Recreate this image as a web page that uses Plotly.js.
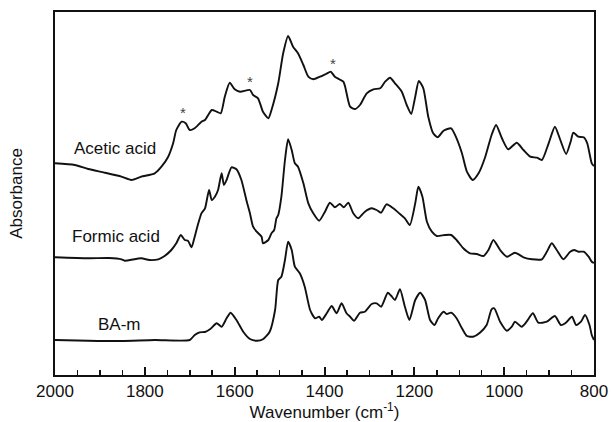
<!DOCTYPE html>
<html>
<head>
<meta charset="utf-8">
<script src="https://cdn.plot.ly/plotly-3.0.1.min.js"></script>
<style>html,body{margin:0;padding:0;background:#fff;}#chart{width:611px;height:422px;}</style>
</head>
<body>
<div id="chart"></div>
<script>
// Wavenumber (cm-1) and absorbance (arbitrary, offset)
const aceticWn = [2000,1956,1926,1889,1852,1830,1808,1778,1763,1748,1737,1730,1718,1709,1700,1689,1674,1666,1651,1640,1631,1622,1611,1600,1588,1566,1559,1548,1537,1525,1518,1503,1492,1481,1470,1459,1447,1436,1425,1410,1397,1386,1377,1367,1358,1354,1343,1332,1321,1306,1291,1276,1265,1254,1243,1228,1217,1207,1198,1190,1180,1169,1158,1148,1135,1118,1106,1094,1083,1070,1057,1042,1028,1018,1005,991,972,957,942,927,916,901,887,875,862,852,846,835,823,815,805,800];
const aceticAbs = [2.117,2.10,2.06,2.023,1.983,1.95,1.983,2.017,2.083,2.183,2.317,2.45,2.533,2.517,2.45,2.467,2.533,2.55,2.65,2.633,2.617,2.783,2.923,2.857,2.833,2.85,2.80,2.767,2.633,2.567,2.65,2.917,3.217,3.39,3.283,3.217,3.10,2.983,2.957,2.983,3.01,3.033,2.983,2.957,2.933,2.883,2.683,2.66,2.70,2.817,2.857,2.867,2.933,2.973,2.917,2.833,2.70,2.61,2.783,2.94,2.867,2.583,2.417,2.377,2.443,2.467,2.367,2.217,2.033,1.95,2.017,2.183,2.40,2.50,2.367,2.257,2.323,2.25,2.183,2.173,2.15,2.317,2.483,2.35,2.21,2.333,2.423,2.383,2.377,2.317,2.117,2.09];

const formicWn = [2000,1926,1880,1852,1845,1808,1790,1770,1756,1741,1730,1720,1711,1704,1696,1689,1681,1674,1666,1657,1651,1644,1637,1629,1624,1618,1607,1596,1585,1574,1566,1559,1551,1540,1537,1525,1518,1512,1507,1503,1496,1488,1481,1473,1466,1459,1447,1436,1425,1412,1399,1388,1377,1366,1357,1347,1336,1325,1310,1295,1284,1274,1262,1247,1232,1221,1210,1198,1191,1182,1172,1161,1150,1132,1118,1106,1091,1076,1061,1046,1035,1024,1009,994,976,957,938,916,905,894,883,868,853,844,835,823,812,805,800];
const formicAbs = [1.177,1.167,1.17,1.157,1.143,1.167,1.15,1.157,1.19,1.25,1.317,1.40,1.35,1.343,1.277,1.383,1.517,1.617,1.667,1.85,1.75,1.783,1.85,2.017,1.90,1.95,2.077,2.057,1.95,1.75,1.617,1.483,1.433,1.383,1.317,1.35,1.417,1.45,1.567,1.60,1.783,2.15,2.357,2.25,2.117,2.083,1.917,1.717,1.617,1.543,1.633,1.723,1.677,1.71,1.677,1.723,1.617,1.567,1.633,1.667,1.65,1.623,1.707,1.667,1.61,1.567,1.50,1.717,1.883,1.783,1.533,1.433,1.39,1.40,1.40,1.35,1.267,1.217,1.21,1.19,1.25,1.35,1.25,1.183,1.223,1.177,1.157,1.157,1.233,1.317,1.25,1.157,1.233,1.25,1.233,1.233,1.183,1.133,1.12];

const bamWn = [2000,1926,1852,1778,1700,1689,1678,1666,1655,1640,1629,1618,1609,1596,1581,1566,1551,1537,1522,1510,1503,1496,1488,1481,1473,1466,1455,1444,1432,1421,1412,1406,1395,1384,1373,1362,1351,1343,1334,1321,1310,1295,1284,1274,1259,1250,1243,1232,1221,1211,1198,1187,1176,1165,1155,1147,1135,1128,1118,1106,1094,1083,1069,1054,1039,1028,1022,1009,994,983,976,961,950,936,924,905,887,874,864,849,840,829,820,810,805,800];
const bamAbs = [0.35,0.343,0.34,0.35,0.35,0.40,0.427,0.43,0.457,0.517,0.483,0.567,0.623,0.55,0.433,0.36,0.343,0.357,0.433,0.65,0.95,0.983,1.15,1.333,1.25,1.083,1.017,0.883,0.65,0.567,0.583,0.55,0.617,0.69,0.617,0.717,0.617,0.583,0.543,0.623,0.633,0.71,0.717,0.683,0.823,0.783,0.75,0.857,0.683,0.55,0.75,0.823,0.75,0.55,0.50,0.567,0.633,0.61,0.623,0.567,0.467,0.39,0.383,0.423,0.50,0.657,0.667,0.533,0.443,0.483,0.533,0.483,0.533,0.617,0.523,0.533,0.59,0.50,0.517,0.583,0.50,0.533,0.60,0.50,0.40,0.35];

const xTickVals = [2000,1800,1600,1400,1200,1000,800];
const xTickText = ["2000","1800","1600","1400","1200","1000","800"];
const seriesNames = ["Acetic acid","Formic acid","BA-m"];
const starWn = [1716,1565,1382];
const starAbs = [2.657,2.967,3.143];

const FONT = "Liberation Sans, Arial, Helvetica, sans-serif";
const lineStyle = {color:"#111", width:1.9, shape:"spline", smoothing:0.6};

const traces = [
  {x:aceticWn, y:aceticAbs, name:seriesNames[0], mode:"lines", line:lineStyle, hoverinfo:"skip"},
  {x:formicWn, y:formicAbs, name:seriesNames[1], mode:"lines", line:lineStyle, hoverinfo:"skip"},
  {x:bamWn, y:bamAbs, name:seriesNames[2], mode:"lines", line:lineStyle, hoverinfo:"skip"}
];

const annotations = [
  {text:seriesNames[0], xref:"paper", yref:"paper", x:0.112, y:0.624},
  {text:seriesNames[1], xref:"paper", yref:"paper", x:0.113, y:0.381},
  {text:seriesNames[2], xref:"paper", yref:"paper", x:0.119, y:0.140}
].map(a => Object.assign(a, {showarrow:false, xanchor:"center", yanchor:"middle", font:{family:FONT, size:17, color:"#111"}}));

starWn.forEach((w,i) => annotations.push({
  text:"*", x:w, y:starAbs[i], xref:"x", yref:"y", showarrow:false,
  xanchor:"center", yanchor:"middle", yshift:-3, font:{family:FONT, size:15, color:"#444"}
}));

const layout = {
  width:611, height:422,
  margin:{l:55, r:17, t:12, b:47, pad:0},
  paper_bgcolor:"#fff", plot_bgcolor:"#fff",
  showlegend:false,
  font:{family:FONT, size:17, color:"#111"},
  xaxis:{
    range:[2000,800], tickvals:xTickVals, ticktext:xTickText,
    ticks:"inside", ticklen:8, tickwidth:2, tickcolor:"#111",
    minor:{dtick:50, tick0:0, ticks:"inside", ticklen:5, tickwidth:1.5, tickcolor:"#111", showgrid:false},
    showline:true, linecolor:"#111", linewidth:2, mirror:true,
    showgrid:false, zeroline:false,
    tickfont:{family:FONT, size:17, color:"#111"},
    title:{text:"Wavenumber (cm<sup>-1</sup>)", font:{family:FONT, size:17, color:"#111"}, standoff:1}
  },
  yaxis:{
    range:[0,3.63], showticklabels:false, ticks:"",
    showline:true, linecolor:"#111", linewidth:2, mirror:true,
    showgrid:false, zeroline:false,
    title:{text:"Absorbance", font:{family:FONT, size:17, color:"#111"}, standoff:26}
  },
  annotations:annotations
};

Plotly.newPlot("chart", traces, layout, {staticPlot:true, displayModeBar:false});
</script>
</body>
</html>
